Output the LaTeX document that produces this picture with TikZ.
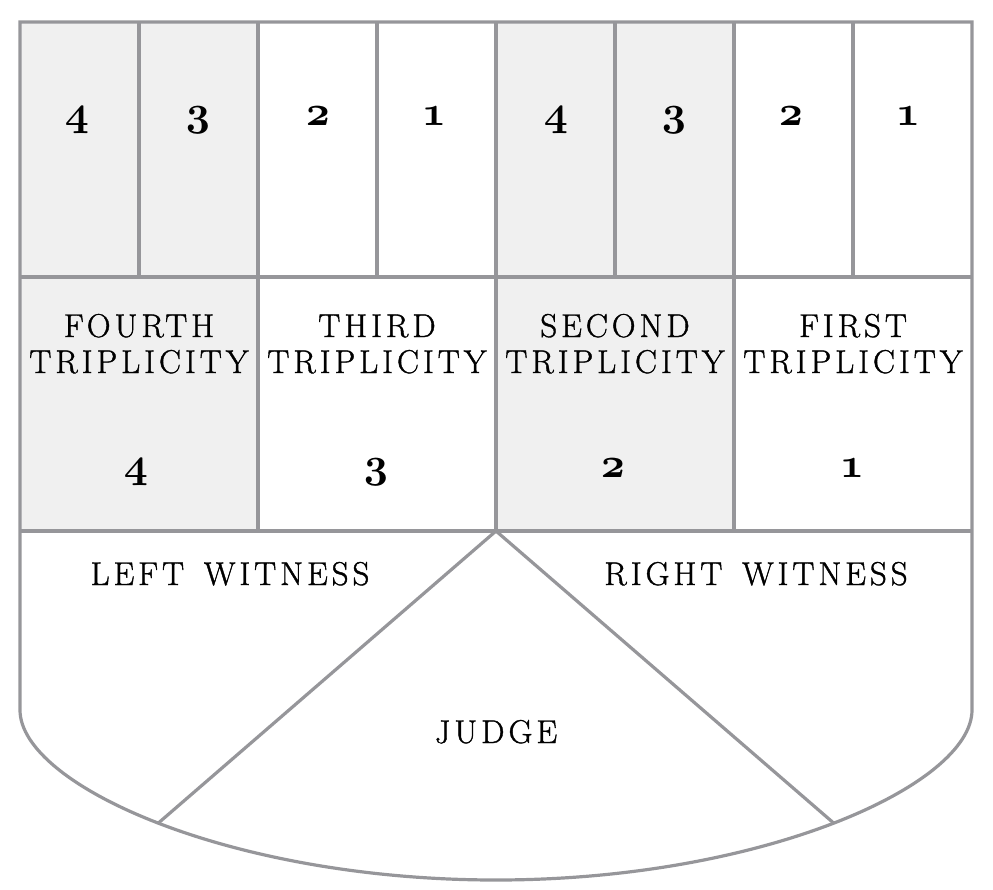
\documentclass[tikz,border=0pt]{standalone}
\usepackage{fontspec}
\setmainfont{Latin Modern Roman}
\newfontfamily\labfont{Latin Modern Roman}[LetterSpace=12,FakeBold=1.2]
\DeclareFontFamily{OML}{myosf}{\skewchar\font=127 }
\DeclareFontShape{OML}{myosf}{m}{it}{<->cmmib10}{}
\newcommand\osnum[1]{{\usefont{OML}{myosf}{m}{it}#1}}
\definecolor{linegray}{RGB}{150,150,154}
\definecolor{cellgray}{RGB}{240,240,240}
\tikzset{
  rule/.style={draw=linegray, line width=3.2pt},
  cellfill/.style={fill=cellgray},
  lab/.style={anchor=base, inner sep=0pt, font=\labfont\fontsize{33}{36}\selectfont, align=center},
  num/.style={anchor=base, inner sep=0pt, font=\fontsize{42}{46}\selectfont},
}
\begin{document}
\begin{tikzpicture}[x=1pt,y=-1pt]
\useasboundingbox (0,0) rectangle (993,889);
% shaded cells
\fill[cellfill] (20,22) rectangle (258,277);
\fill[cellfill] (496,22) rectangle (734,277);
\fill[cellfill] (20,277) rectangle (258,531);
\fill[cellfill] (496,277) rectangle (734,531);
% outline with rounded bottom
\draw[rule] (20,710) -- (20,22) -- (972,22) -- (972,710)
  .. controls (972,785) and (762,880) .. (496,880)
  .. controls (230,880) and (20,785) .. (20,710) -- cycle;
\path (972,710) .. controls (972,785) and (762,880) .. (496,880) coordinate[pos=0.5] (jr);
\path (496,880) .. controls (230,880) and (20,785) .. (20,710) coordinate[pos=0.5] (jl);
% horizontal rules
\draw[rule] (20,277) -- (972,277);
\draw[rule] (20,531) -- (972,531);
% row 1 verticals
\foreach \x in {139,258,377,496,615,734,853} \draw[rule] (\x,22) -- (\x,277);
% row 2 verticals
\foreach \x in {258,496,734} \draw[rule] (\x,277) -- (\x,531);
% judge triangle
\coordinate (apex) at (496,531);
\draw[rule] (jl) -- (apex) -- (jr);
% top row numerals
\node[num] (t1) at (77,125) {\osnum{4}};
\node[num] (t2) at (198,125) {\osnum{3}};
\node[num] (t3) at (318,125) {\osnum{2}};
\node[num] (t4) at (434,125) {\osnum{1}};
\node[num] (t5) at (556,125) {\osnum{4}};
\node[num] (t6) at (674,125) {\osnum{3}};
\node[num] (t7) at (791,125) {\osnum{2}};
\node[num] (t8) at (908,125) {\osnum{1}};
% triplicity labels
\node[lab] (f4a) at (139,337) {FOURTH};
\node[lab] (f4b) at (139,373) {TRIPLICITY};
\node[lab] (f3a) at (377,337) {THIRD};
\node[lab] (f3b) at (377,373) {TRIPLICITY};
\node[lab] (f2a) at (615,337) {SECOND};
\node[lab] (f2b) at (615,373) {TRIPLICITY};
\node[lab] (f1a) at (853,337) {FIRST};
\node[lab] (f1b) at (853,373) {TRIPLICITY};
\node[num] (n4) at (136,477) {\osnum{4}};
\node[num] (n3) at (376,477) {\osnum{3}};
\node[num] (n2) at (613,477) {\osnum{2}};
\node[num] (n1) at (852,477) {\osnum{1}};
% witnesses and judge
\node[lab] (lw) at (230,585) {LEFT\hspace{0.6em}WITNESS};
\node[lab] (rw) at (756,585) {RIGHT\hspace{0.6em}WITNESS};
\node[lab] (jd) at (496,743) {JUDGE};
\end{tikzpicture}
\end{document}
